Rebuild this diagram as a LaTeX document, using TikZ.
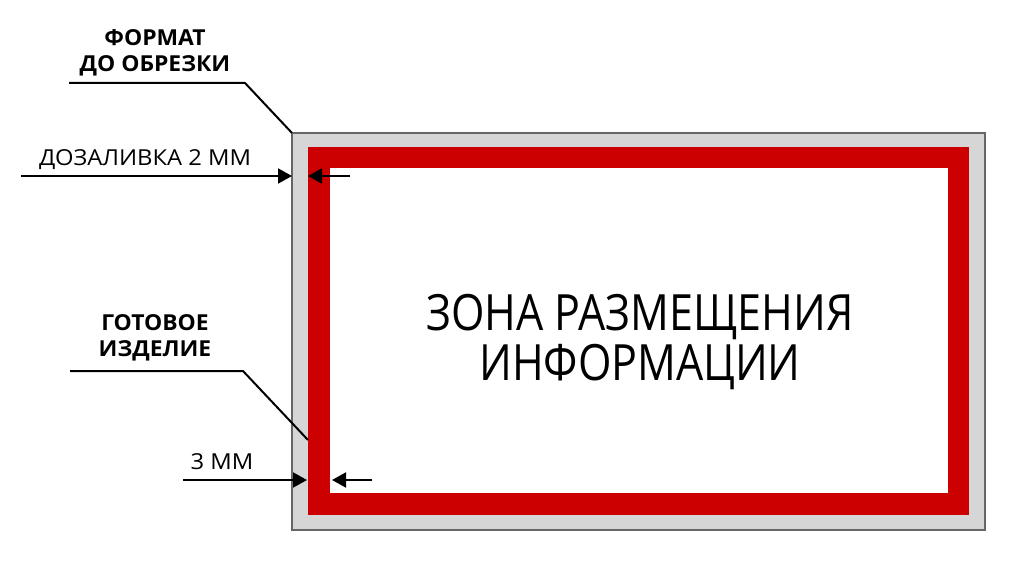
\documentclass[tikz,border=0pt]{standalone}
\usepackage{fontspec}
\setmainfont{Open Sans}
\newfontfamily\zonefont[FakeStretch=0.86]{Open Sans}
\newfontfamily\notefont[FakeStretch=1.08]{Open Sans}
\newfontfamily\tagfont[FakeStretch=1.04]{Open Sans}
\usetikzlibrary{arrows.meta,positioning}
\definecolor{bleedgray}{HTML}{D6D6D6}
\definecolor{framegray}{HTML}{666666}
\definecolor{safered}{HTML}{CC0000}

\begin{document}
\begin{tikzpicture}[x=1pt,y=-1pt,
    dim/.style={line width=2pt,-{Triangle[length=14pt,width=15pt]}},
    leader/.style={line width=2pt},
    tag/.style={font=\tagfont\fontsize{22}{26}\selectfont\bfseries,align=center,inner sep=0pt},
    note/.style={font=\notefont\fontsize{22}{26}\selectfont,inner sep=0pt}]
    \useasboundingbox (0,0) rectangle (1024,561);

    % Bleed area (format before trimming)
    \draw[line width=2.5pt,draw=framegray,fill=bleedgray] (292,133) rectangle (985,530);
    % Finished product with safe margin
    \fill[safered] (308,147) rectangle (969,515);
    \fill[white] (330,168) rectangle (948,493);
    \node[font=\zonefont\fontsize{50}{50}\selectfont,align=center,inner sep=0pt] (zone) at (640,342)
        {ЗОНА РАЗМЕЩЕНИЯ\\ИНФОРМАЦИИ};

    % Corner points
    \coordinate (bleedcorner) at (292,133);
    \coordinate (trimpoint) at (308,440);

    % Labels
    \node[tag] (format) at (155,53) {ФОРМАТ\\ДО ОБРЕЗКИ};
    \node[note] (bleed) at (145,160) {ДОЗАЛИВКА 2 ММ};
    \node[tag] (product) at (155,338) {ГОТОВОЕ\\ИЗДЕЛИЕ};
    \node[note] (margin) at (222,462) {3 ММ};

    % Leader lines
    \coordinate (formatL) at (69,83);
    \coordinate (formatR) at (245,83);
    \draw[leader] (formatL) -- (formatR) -- (bleedcorner);
    \coordinate (productL) at (70,371);
    \coordinate (productR) at (243,371);
    \draw[leader] (productL) -- (productR) -- (trimpoint);

    % Dimension arrows
    \coordinate (bleedA) at (21,176);
    \coordinate (bleedB) at (292,176);
    \coordinate (bleedC) at (350,176);
    \coordinate (bleedD) at (308,176);
    \draw[dim] (bleedA) -- (bleedB);
    \draw[dim] (bleedC) -- (bleedD);
    \coordinate (marginA) at (183,480);
    \coordinate (marginB) at (307,480);
    \coordinate (marginC) at (372,480);
    \coordinate (marginD) at (332,480);
    \draw[dim] (marginA) -- (marginB);
    \draw[dim] (marginC) -- (marginD);
\end{tikzpicture}
\end{document}
